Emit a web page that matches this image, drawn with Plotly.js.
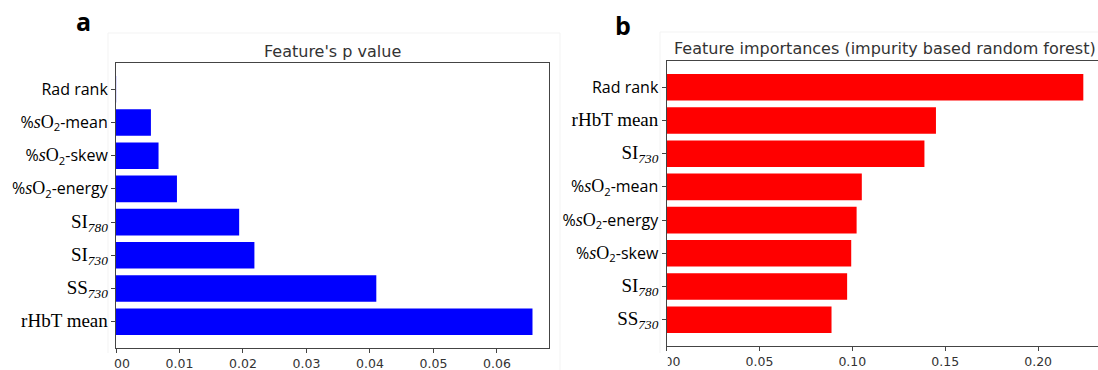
<!DOCTYPE html>
<html>
<head>
<meta charset="utf-8">
<script src="https://cdn.plot.ly/plotly-3.0.1.min.js"></script>
<style>
  html, body { margin: 0; padding: 0; background: #fff; }
  #chart { width: 1098px; height: 370px; }
</style>
</head>
<body>
<div id="chart"></div>
<script>
// Panel a: p value of each feature (bottom to top)
const pFeatures = ['rHbT mean', 'SS730', 'SI730', 'SI780', 'sO2-energy', 'sO2-skew', 'sO2-mean', 'Rad rank'];
const pValues   = [0.0656, 0.0410, 0.0218, 0.0194, 0.0096, 0.0067, 0.0055, 0.00002];

// Panel b: impurity-based random forest importances (bottom to top)
const impFeatures = ['SS730', 'SI780', 'sO2-skew', 'sO2-energy', 'sO2-mean', 'SI730', 'rHbT mean', 'Rad rank'];
const impValues   = [0.0888, 0.0972, 0.0994, 0.1023, 0.1051, 0.1388, 0.1450, 0.2243];

// Rich tick labels for each feature
const SERIF = 'Liberation Serif';
const serif = t => `<span style="font-family:${SERIF};font-size:19px">${t}</span>`;
const so2 = suffix => `%<span style="font-family:${SERIF};font-size:18px"><i>s</i>O</span><sub>2</sub>-${suffix}`;
const featureLabels = {
  'rHbT mean': serif('rHbT mean'),
  'SS730': serif('SS<sub><i>730</i></sub>'),
  'SI730': serif('SI<sub><i>730</i></sub>'),
  'SI780': serif('SI<sub><i>780</i></sub>'),
  'sO2-energy': so2('energy'),
  'sO2-skew': so2('skew'),
  'sO2-mean': so2('mean'),
  'Rad rank': 'Rad rank'
};

const W = 1098, H = 370;
const px = x => x / W;
const py = y => 1 - y / H;

const AX = '#444';
const tickFontX = { family: 'DejaVu Sans', size: 12.5, color: '#333' };
const tickFontY = { family: 'Open Sans', size: 16, color: '#000' };

const traces = [
  {
    type: 'bar', orientation: 'h',
    x: pValues, y: pFeatures,
    width: 0.8,
    marker: { color: '#0000ff', line: { width: 0 } },
    xaxis: 'x', yaxis: 'y',
    hoverinfo: 'x+y'
  },
  {
    type: 'bar', orientation: 'h',
    x: impValues, y: impFeatures,
    width: 0.8,
    marker: { color: '#ff0000', line: { width: 0 } },
    xaxis: 'x2', yaxis: 'y2',
    hoverinfo: 'x+y'
  }
];

const baseX = {
  showgrid: false, zeroline: false,
  showline: true, linecolor: AX, linewidth: 1, mirror: true,
  ticks: 'outside', ticklen: 4, tickcolor: AX, tickwidth: 1,
  tickformat: '.2f', tick0: 0,
  tickfont: tickFontX
};
const baseY = {
  type: 'category',
  showgrid: false, zeroline: false,
  showline: true, linecolor: AX, linewidth: 1,
  ticks: 'outside', ticklen: 4, tickcolor: AX, tickwidth: 1,
  range: [-0.79, 7.79],
  tickfont: tickFontY
};

const layout = {
  width: W, height: H,
  margin: { l: 0, r: 0, t: 0, b: 0, pad: 0 },
  paper_bgcolor: '#fff', plot_bgcolor: '#fff',
  showlegend: false,
  font: { family: 'DejaVu Sans', color: '#333' },
  xaxis: Object.assign({}, baseX, {
    domain: [px(116), px(549)], range: [0, 0.0682], dtick: 0.01, anchor: 'y'
  }),
  yaxis: Object.assign({}, baseY, {
    domain: [py(348), py(63)], anchor: 'x', mirror: true,
    categoryorder: 'array', categoryarray: pFeatures,
    tickvals: pFeatures, ticktext: pFeatures.map(f => featureLabels[f])
  }),
  xaxis2: Object.assign({}, baseX, {
    domain: [px(666.5), 1], range: [0, 0.2322], dtick: 0.05, anchor: 'y2'
  }),
  yaxis2: Object.assign({}, baseY, {
    domain: [py(346), py(61)], anchor: 'x2', mirror: false,
    categoryorder: 'array', categoryarray: impFeatures,
    tickvals: impFeatures, ticktext: impFeatures.map(f => featureLabels[f])
  }),
  annotations: [
    { text: '<b>a</b>', xref: 'paper', yref: 'paper', x: px(83), y: py(21),
      xanchor: 'center', yanchor: 'middle', showarrow: false,
      font: { family: 'Open Sans', size: 25, color: '#000' } },
    { text: '<b>b</b>', xref: 'paper', yref: 'paper', x: px(623), y: py(25),
      xanchor: 'center', yanchor: 'middle', showarrow: false,
      font: { family: 'Open Sans', size: 25, color: '#000' } },
    { text: "Feature's p value", xref: 'paper', yref: 'paper', x: px(332.5), y: py(51),
      xanchor: 'center', yanchor: 'middle', showarrow: false,
      font: { family: 'DejaVu Sans', size: 16, color: '#333' } },
    { text: 'Feature importances (impurity based random forest)', xref: 'paper', yref: 'paper',
      x: px(884.5), y: py(49), xanchor: 'center', yanchor: 'middle', showarrow: false,
      font: { family: 'DejaVu Sans', size: 16, color: '#333' } }
  ],
  shapes: [
    // faint figure frames
    { type: 'rect', xref: 'paper', yref: 'paper', layer: 'below',
      x0: px(108), x1: px(560), y0: py(372), y1: py(33),
      line: { color: '#f3f3f3', width: 1 }, fillcolor: 'rgba(0,0,0,0)' },
    { type: 'rect', xref: 'paper', yref: 'paper', layer: 'below',
      x0: px(660), x1: px(1100), y0: py(372), y1: py(32),
      line: { color: '#f3f3f3', width: 1 }, fillcolor: 'rgba(0,0,0,0)' },
    // the figures are clipped on the left, hiding part of the first tick label
    { type: 'rect', xref: 'paper', yref: 'paper', layer: 'above',
      x0: px(92), x1: px(114), y0: py(370), y1: py(353),
      line: { width: 0 }, fillcolor: '#fff' },
    { type: 'rect', xref: 'paper', yref: 'paper', layer: 'above',
      x0: px(640), x1: px(667.8), y0: py(370), y1: py(353),
      line: { width: 0 }, fillcolor: '#fff' }
  ]
};

Plotly.newPlot('chart', traces, layout, { displayModeBar: false, staticPlot: true });
</script>
</body>
</html>
